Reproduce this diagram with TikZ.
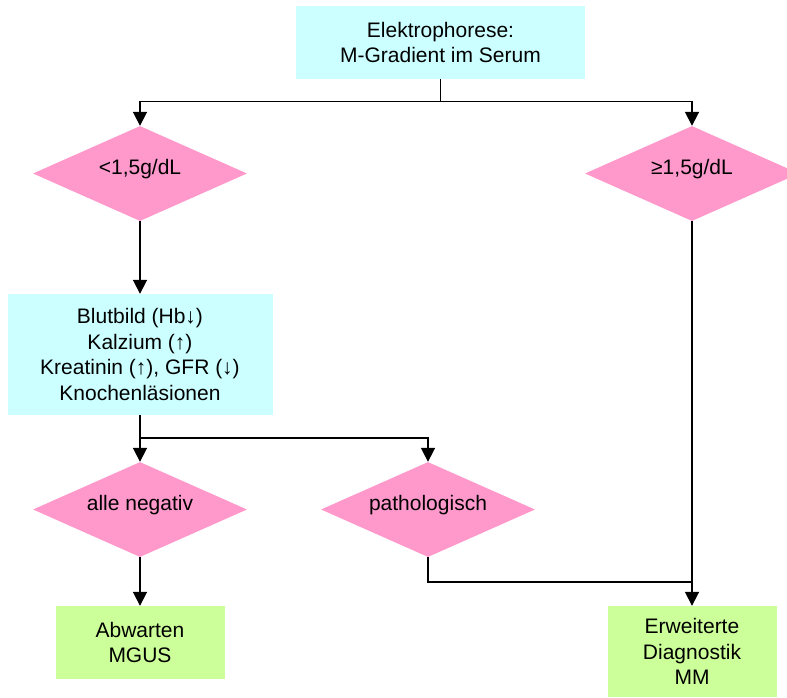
\documentclass[tikz,border=0pt]{standalone}
\usepackage{fontspec}
\setmainfont{Liberation Sans}
\usetikzlibrary{shapes.geometric,arrows.meta}
\definecolor{boxcyan}{HTML}{CCFFFF}
\definecolor{boxpink}{HTML}{FF99CC}
\definecolor{boxgreen}{HTML}{CCFF99}
\begin{document}
\begin{tikzpicture}[x=1pt,y=-1pt,
  every node/.style={font=\fontsize{21}{25.6}\selectfont, align=center, inner sep=0pt},
  infobox/.style={rectangle, fill=boxcyan, draw=none},
  endbox/.style={rectangle, fill=boxgreen, draw=none},
  decision/.style={diamond, fill=boxpink, draw=none, minimum width=214pt, minimum height=95pt, aspect=2.25},
  conn/.style={line width=1.8pt, draw=black},
  arr/.style={conn, -{Triangle[width=14pt,length=14pt]}}
]
\useasboundingbox (0,0) rectangle (787,697);
\clip (0,0) rectangle (787,697);

\node[infobox, minimum width=289pt, minimum height=73pt] (top) at (440.5,42.5) {Elektrophorese:\\M-Gradient im Serum};

\node[decision, label={[yshift=4pt]center:<1,5g/dL}] (dlow) at (140,173.5) {};
\node[decision, label={[yshift=4pt]center:≥1,5g/dL}] (dhigh) at (692,173.5) {};

\node[infobox, minimum width=265pt, minimum height=121pt] (lab) at (140,354.5) {Blutbild (Hb↓)\\Kalzium (↑)\\Kreatinin (↑), GFR (↓)\\Knochenläsionen};

\node[decision, label={[yshift=4pt]center:alle negativ}] (dneg) at (140,509.5) {};
\node[decision, label={[yshift=4pt]center:pathologisch}] (dpath) at (428,509.5) {};

\node[endbox, minimum width=169pt, minimum height=73pt] (wait) at (140,642.5) {Abwarten\\MGUS};
\node[endbox, minimum width=169pt, minimum height=91pt] (diag) at (692,651.5) {Erweiterte\\Diagnostik\\MM};

\coordinate (split1) at (440.5,101.5);
\coordinate (split2) at (140,438);
\coordinate (join) at (692,582);

\draw[conn] (top.south) -- (split1);
\draw[arr] (split1) -| (dlow.north);
\draw[arr] (split1) -| (dhigh.north);
\draw[arr] (dlow.south) -- (lab.north);
\draw[conn] (lab.south) -- (split2);
\draw[arr] (split2) -- (dneg.north);
\draw[arr] (split2) -| (dpath.north);
\draw[arr] (dneg.south) -- (wait.north);
\draw[arr] (dhigh.south) -- (diag.north);
\draw[conn] (dpath.south) |- (join);
\end{tikzpicture}
\end{document}
